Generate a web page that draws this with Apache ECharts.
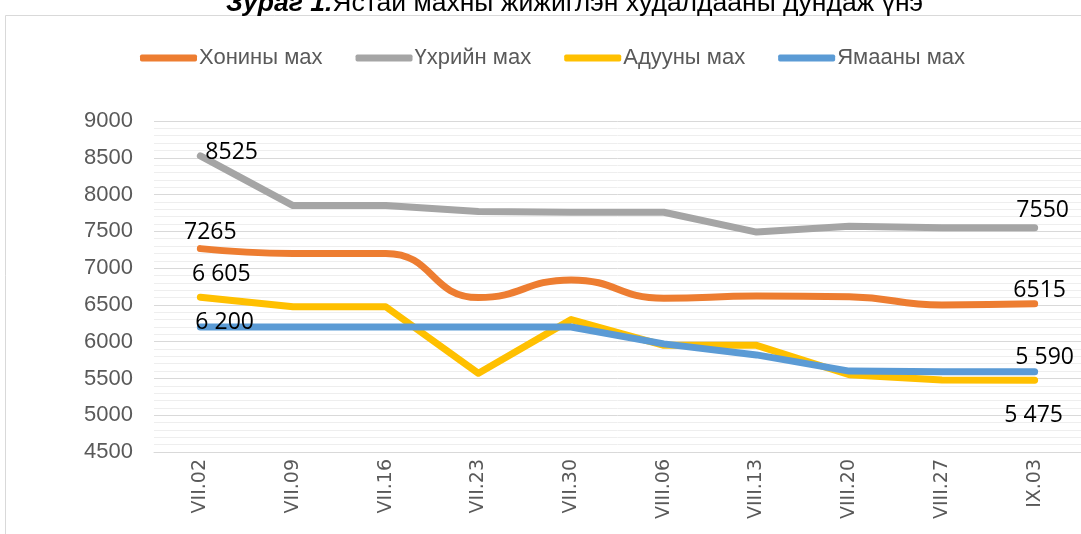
<!DOCTYPE html>
<html>
<head>
<meta charset="utf-8">
<script src="https://cdn.jsdelivr.net/npm/echarts@6/dist/echarts.min.js"></script>
<style>
html,body{margin:0;padding:0;background:#fff;}
#chart{width:1081px;height:534px;}
</style>
</head>
<body>
<div id="chart"></div>
<script>
const categories = ['VII.02','VII.09','VII.16','VII.23','VII.30','VIII.06','VIII.13','VIII.20','VIII.27','IX.03'];
const seriesNames = ['Хонины мах','Үхрийн мах','Адууны мах','Ямааны мах'];
const sheep = [7265,7200,7200,6600,6840,6590,6620,6610,6500,6515];
const beef  = [8525,7850,7850,7770,7760,7760,7490,7570,7550,7550];
const horse = [6605,6475,6475,5570,6300,5950,5950,5550,5480,5475];
const goat  = [6200,6200,6200,6200,6200,5970,5820,5600,5590,5590];
const yTicks = {min:4500, max:9000, interval:500};
const titleBold = 'Зураг 1.';
const titleRest = 'Ястай махны жижиглэн худалдааны дундаж үнэ';

const colors = ['#ED7D31','#A5A5A5','#FFC000','#5B9BD5'];
const spaced = v => { const s = String(v); return s.length > 3 ? s.slice(0, s.length-3) + ' ' + s.slice(-3) : s; };
const plain = v => String(v);

// label placement: [firstPos, firstOffset, lastPos, lastOffset, formatter]
const labelCfg = [
  ['top', [10, 0], 'top', [5, 3], plain],
  ['right', [0, -3], 'top', [8, -1], plain],
  ['top', [21, -6], 'bottom', [-1, 19], spaced],
  ['right', [-10, -5], 'top', [10, 2], spaced]
];
const values = [sheep, beef, horse, goat];

function buildData(arr, cfg) {
  return arr.map((v, i) => {
    if (i === 0 || i === arr.length - 1) {
      const first = i === 0;
      return {
        value: v,
        label: {
          show: true,
          position: first ? cfg[0] : cfg[2],
          offset: first ? cfg[1] : cfg[3],
          formatter: p => cfg[4](p.value),
          color: '#000',
          fontSize: 23,
          fontFamily: 'Open Sans'
        }
      };
    }
    return v;
  });
}

const series = seriesNames.map((name, k) => ({
  name: name,
  type: 'line',
  data: buildData(values[k], labelCfg[k]),
  smooth: k === 0 ? 0.5 : false,
  symbol: 'circle',
  symbolSize: 0.01,
  showSymbol: true,
  showAllSymbol: true,
  lineStyle: {width: 7, color: colors[k], cap: 'round', join: 'round'},
  itemStyle: {color: colors[k]},
  emphasis: {disabled: true},
  z: 2 + k
}));

const chart = echarts.init(document.getElementById('chart'), null, {renderer: 'canvas'});
chart.setOption({
  backgroundColor: '#fff',
  animation: false,
  color: colors,
  graphic: [{
    type: 'rect',
    shape: {x: 5.5, y: 15.5, width: 1200, height: 600},
    style: {fill: 'none', stroke: '#d9d9d9', lineWidth: 1},
    silent: true,
    z: -10
  }],
  title: {
    text: '{b|' + titleBold + '}{r|' + titleRest + '}',
    left: 226,
    top: -10,
    padding: 0,
    textStyle: {
      rich: {
        b: {fontFamily: 'Liberation Sans', fontSize: 26.5, fontWeight: 'bold', fontStyle: 'italic', color: '#000'},
        r: {fontFamily: 'Liberation Sans', fontSize: 26.5, fontWeight: 'normal', color: '#000'}
      }
    }
  },
  legend: {
    data: seriesNames,
    left: 135,
    top: 42,
    icon: 'roundRect',
    itemWidth: 57,
    itemHeight: 7,
    itemGap: 33,
    textStyle: {fontFamily: 'Liberation Sans', fontSize: 22, color: '#595959', padding: [0, 0, 0, -3]}
  },
  grid: {left: 154, top: 121, width: 938, height: 331, containLabel: false},
  xAxis: {
    type: 'category',
    data: categories,
    boundaryGap: true,
    axisLine: {show: true, lineStyle: {color: '#d9d9d9', width: 1}},
    axisTick: {show: false},
    axisLabel: {rotate: 90, margin: 7, color: '#595959', fontFamily: 'DejaVu Sans', fontSize: 19}
  },
  yAxis: {
    type: 'value',
    min: yTicks.min,
    max: yTicks.max,
    interval: yTicks.interval,
    axisLine: {show: false},
    axisTick: {show: false},
    axisLabel: {margin: 21, color: '#595959', fontFamily: 'Liberation Sans', fontSize: 22, formatter: v => String(v)},
    splitLine: {lineStyle: {color: '#d9d9d9', width: 1}},
    minorTick: {show: false, splitNumber: 5},
    minorSplitLine: {show: true, lineStyle: {color: '#eeeeee', width: 1}}
  },
  series: series
});
</script>
</body>
</html>
